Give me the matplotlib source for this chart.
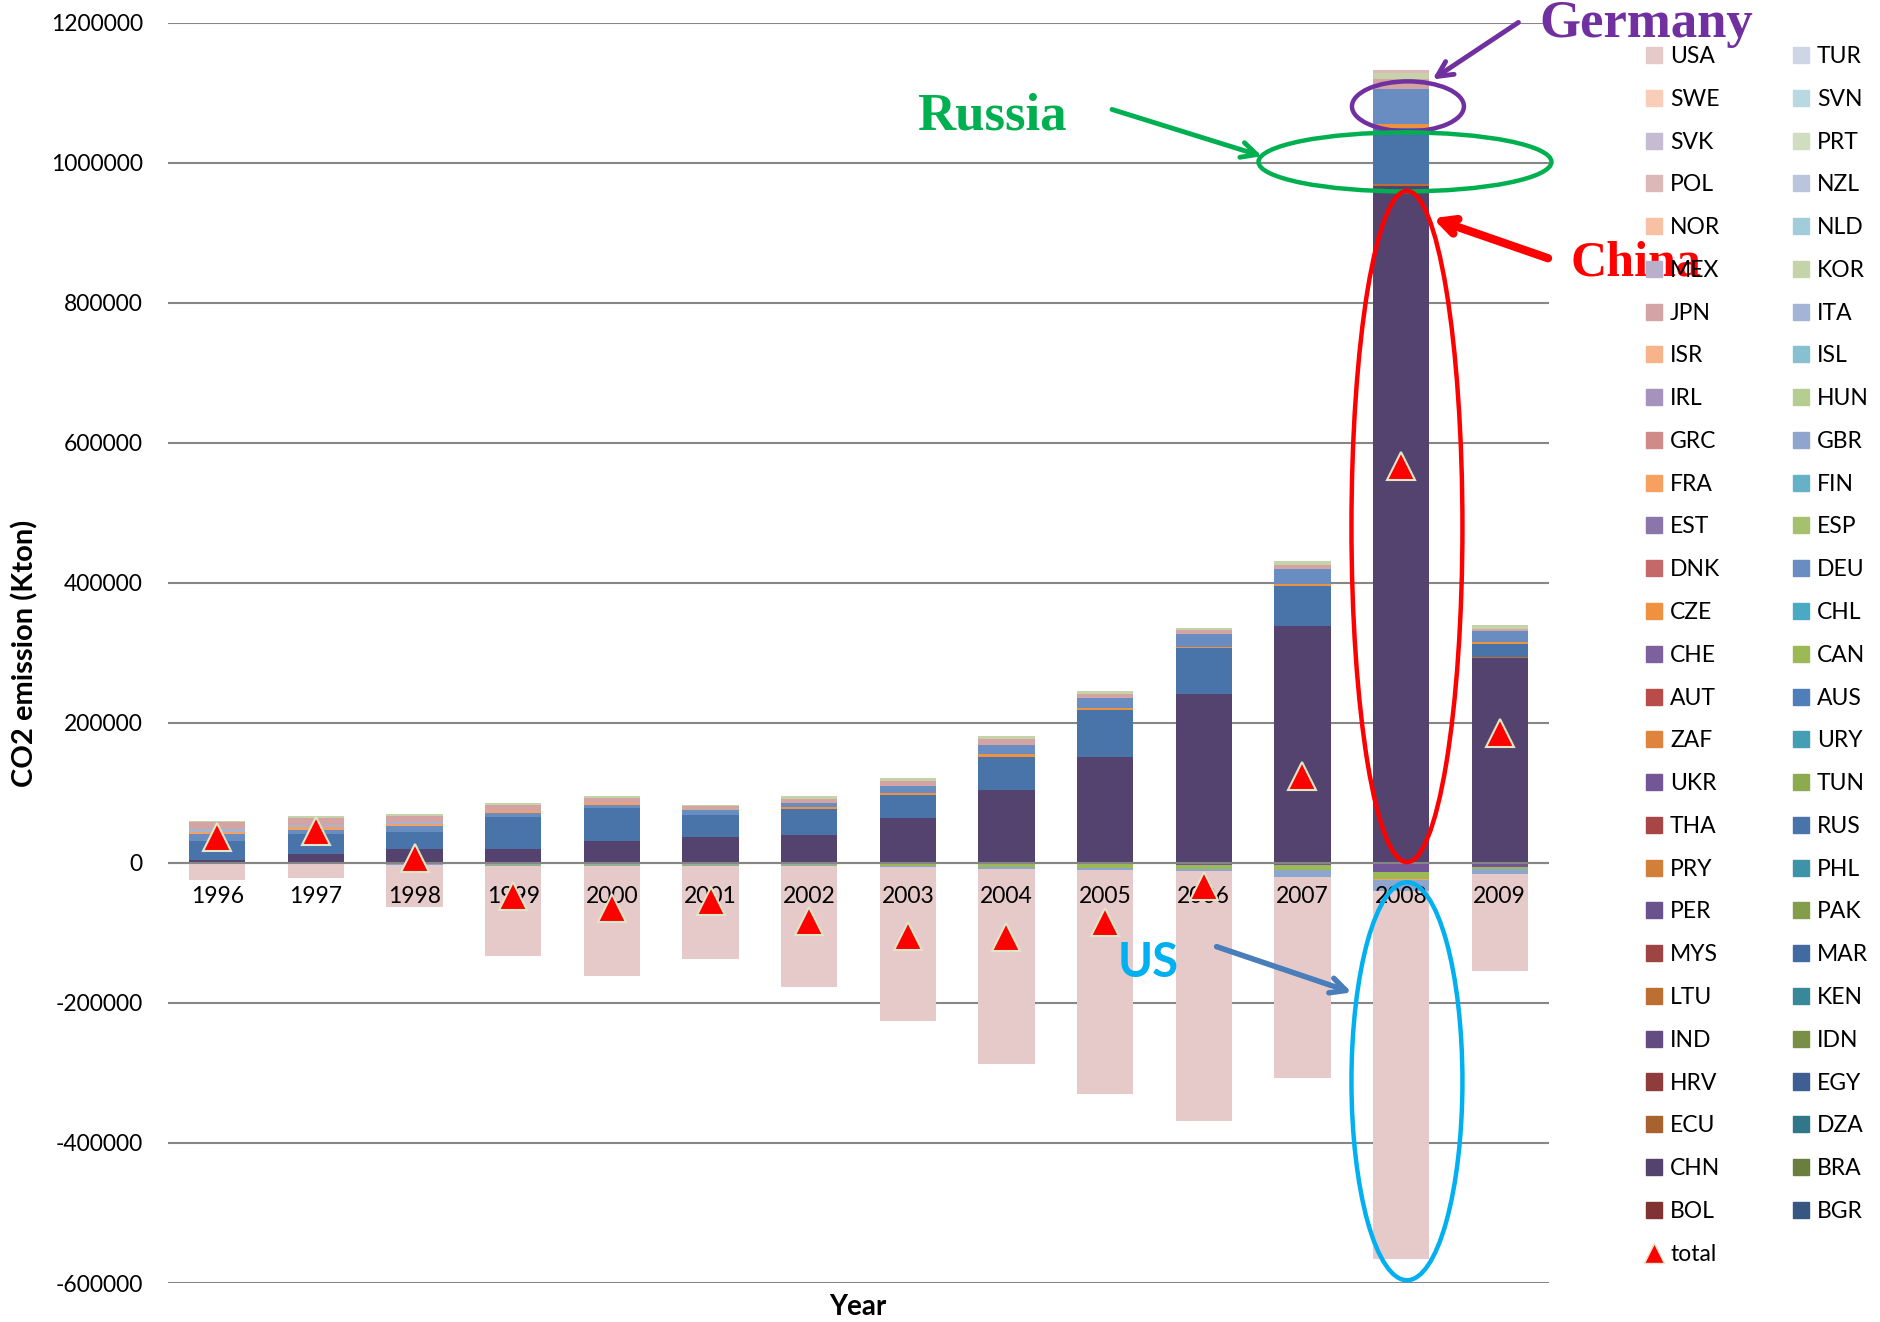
import numpy as np
import matplotlib
matplotlib.use("Agg")
import matplotlib.pyplot as plt
import matplotlib.patches as mpatches
from matplotlib.lines import Line2D
from matplotlib.ticker import StrMethodFormatter

plt.rcParams["font.family"] = ["Lato", "DejaVu Sans"]
plt.rcParams["axes.unicode_minus"] = False

# %% data (kton CO2)
years = list(range(1996, 2010))

# stacking order, bottom first (non-OECD, then OECD)
countries = ["BGR", "BOL", "BRA", "CHN", "DZA", "ECU", "EGY", "HRV", "IDN", "IND",
             "KEN", "LTU", "MAR", "MYS", "PAK", "PER", "PHL", "PRY", "RUS", "THA",
             "TUN", "UKR", "URY", "ZAF", "AUS", "AUT", "CAN", "CHE", "CHL", "CZE",
             "DEU", "DNK", "ESP", "EST", "FIN", "FRA", "GBR", "GRC", "HUN", "IRL",
             "ISL", "ISR", "ITA", "JPN", "KOR", "MEX", "NLD", "NOR", "NZL", "POL",
             "PRT", "SVK", "SVN", "SWE", "TUR", "USA"]

CHN = [4800, 12900, 20000, 20500, 31400, 36700, 39600, 64400, 104000, 151200, 241600, 337900, 967000, 293000]
LTU = [0, 0, 0, 0, 0, 0, 0, 0, 0, 0, 0, 0, 2500, 1700]
RUS = [26000, 28600, 24300, 44800, 46700, 31400, 37800, 32500, 47900, 67400, 65600, 57900, 80500, 18100]
UKR = [0, 0, -1500, -1500, -2000, -1500, -1500, -1500, -1500, -2000, -2500, -3500, -12900, -5700]
CAN = [0, 0, 0, -1000, -1500, -1000, -1700, -3000, -4000, -5600, -6300, -6000, -9500, -3300]
CZE = [0, 0, 0, 0, 0, 0, 2400, 2400, 3000, 3000, 1800, 2400, 5700, 2900]
DEU = [10500, 6200, 8100, 6200, 5200, 7100, 5900, 11200, 13600, 14200, 18300, 21300, 50300, 14800]
FRA = [2800, 3300, 2900, 2400, 1900, 2400, 0, 0, 0, 0, 0, 0, -2000, 0]
GBR = [0, 0, -1500, -1300, -1300, -1300, -1500, -2000, -3400, -3000, -3000, -10000, -15200, -6200]
ITA = [4300, 3800, 3300, 0, 0, 1500, 0, 0, 0, 0, 0, 0, 0, 0]
JPN = [9500, 9500, 8100, 8600, 7100, 1800, 5900, 5900, 8300, 5900, 4700, 6500, 14000, 3300]
KOR = [2400, 3300, 3300, 3300, 3800, 2400, 3500, 4700, 4700, 4100, 4100, 5300, 8000, 6200]
POL = [0, 0, 0, 0, 0, 0, 0, 0, 0, 0, 0, 0, 5000, 0]
USA = [-23800, -21900, -60300, -129500, -156200, -133300, -173100, -218600, -278300,
       -319600, -356800, -287700, -526100, -138700]

colors = ["#355781", "#813333", "#6A7F3D", "#55436F", "#31778A", "#A8622F", "#3D5F93",
          "#8F3C3C", "#788F45", "#624C82", "#378898", "#BD6F33", "#416BA0", "#9E4443",
          "#829E4A", "#6A528D", "#3D93A8", "#D27F3A", "#4874AA", "#A84545", "#8CAA4E",
          "#735696", "#449EB4", "#DE843D", "#4F7EBA", "#BA4B4B", "#9BBA55", "#7D619F",
          "#4AA9C3", "#F0913F", "#6A8DC1", "#C4686A", "#A5C170", "#8B76AC", "#65B2C8",
          "#F8A05F", "#8EA5CD", "#D18A8A", "#B6CD92", "#A693BD", "#87C1D1", "#F7B48B",
          "#A3B4D4", "#D4A3A3", "#C4D4A8", "#B7AFCC", "#A1CCDA", "#F8C1A3", "#B9C4DD",
          "#DDB8B8", "#D1DDBF", "#C5BCD4", "#B8D8E2", "#F9CDB8", "#CDD5E6", "#E6CACA"]

series = {"CHN": CHN, "LTU": LTU, "RUS": RUS, "UKR": UKR, "CAN": CAN, "CZE": CZE,
          "DEU": DEU, "FRA": FRA, "GBR": GBR, "ITA": ITA, "JPN": JPN, "KOR": KOR,
          "POL": POL, "USA": USA}
vals = np.array([series.get(c, [0] * len(years)) for c in countries], dtype=float)
total = vals.sum(axis=0)

# %% figure
fig = plt.figure(figsize=(18.8, 13.22), dpi=100)
ax = fig.add_axes([168 / 1880, 1 - 1283 / 1322, 1381 / 1880, 1260.3 / 1322])

x = np.arange(len(years))
pos = np.clip(vals, 0, None)
neg = np.clip(vals, None, 0)
pos_bot = np.vstack([np.zeros(len(years)), np.cumsum(pos, axis=0)[:-1]])
neg_bot = np.vstack([np.zeros(len(years)), np.cumsum(neg, axis=0)[:-1]])

w = 0.57
for i, c in enumerate(countries):
    if pos[i].any():
        ax.bar(x, pos[i], w, bottom=pos_bot[i], color=colors[i], lw=0, zorder=1)
    if neg[i].any():
        ax.bar(x, neg[i], w, bottom=neg_bot[i], color=colors[i], lw=0, zorder=1)

ax.axhline(0, color="#868686", lw=1.5, zorder=1.6)
ax.plot(x, total, "^", color="red", ms=20, mec="#E0E6C8", mew=1.5, zorder=4, ls="none")

for xi, yr in zip(x, years):
    ax.annotate(str(yr), (xi, 0), xytext=(0, -24.5), textcoords="offset points",
                ha="center", va="center", fontsize=16.5, zorder=3)

ax.set_xlim(-0.5, len(years) - 0.5)
ax.set_ylim(-600000, 1200000)
ax.set_yticks(np.arange(-600000, 1200001, 200000))
ax.yaxis.set_major_formatter(StrMethodFormatter("{x:.0f}"))
ax.tick_params(axis="y", length=0, pad=18, labelsize=16.5)
ax.set_xticks([])
ax.yaxis.grid(True, color="#868686", lw=1.5)
ax.set_axisbelow(True)
for s in ax.spines.values():
    s.set_visible(False)

fig.text(25 / 1880, 1 - 653 / 1322, "CO2 emission (Kton)", rotation=90,
         ha="center", va="center", fontsize=21, fontweight="bold")
fig.text(858 / 1880, 1 - 1307 / 1322, "Year", ha="center", va="center",
         fontsize=20, fontweight="bold")

# %% callouts
serif = ["Liberation Serif", "DejaVu Serif"]
rings = [((12.07, 1080500), 1.135, 71400, "#7030A0"),
         ((12.04, 1001200), 2.97, 84300, "#00B050"),
         ((12.06, 480400), 1.125, 958600, "#FF0000"),
         ((12.06, -311900), 1.125, 568300, "#00B0F0")]
for xy, ew, eh, col in rings:
    ax.add_patch(mpatches.Ellipse(xy, ew, eh, fill=False, ec=col, lw=3.2,
                                  zorder=5, clip_on=False))

arrows = [((13.19, 1200400), (12.32, 1119000), "#7030A0", 3.5),
          ((9.07, 1076100), (10.59, 1009400), "#00B050", 3.5),
          ((13.49, 863600), (12.32, 920700), "#FF0000", 6),
          ((10.13, -119600), (11.50, -185000), "#4A7EBB", 4)]
for tail, head, col, lw in arrows:
    ax.annotate("", xy=head, xytext=tail, annotation_clip=False, zorder=5,
                arrowprops=dict(arrowstyle="->,head_length=1.1,head_width=0.55",
                                color=col, lw=lw, shrinkA=0, shrinkB=0))

ax.text(13.40, 1179000, "Germany", color="#7030A0", fontsize=38, fontweight="bold",
        family=serif, ha="left", va="baseline", clip_on=False, zorder=6)
ax.text(7.09, 1047600, "Russia", color="#00B050", fontsize=38, fontweight="bold",
        family=serif, ha="left", va="baseline", zorder=6)
ax.text(13.72, 838900, "China", color="#FF0000", fontsize=36, fontweight="bold",
        family=serif, ha="left", va="baseline", clip_on=False, zorder=6)
ax.text(9.13, -162400, "US", color="#00B0F0", fontsize=34, fontweight="bold",
        ha="left", va="baseline", zorder=6)

# %% legend, two columns read across rows (top of stack first)
order = list(range(len(countries)))[::-1]
col1 = order[0::2]
col2 = order[1::2]
h1 = [mpatches.Patch(color=colors[i], label=countries[i]) for i in col1]
h1.append(Line2D([], [], marker="^", ls="none", color="red", mec="#E0E6C8",
                 mew=1, ms=14, label="total"))
h2 = [mpatches.Patch(color=colors[i], label=countries[i]) for i in col2]
leg_kw = dict(loc="upper left", frameon=False, fontsize=16.5, borderpad=0,
              borderaxespad=0, handlelength=0.7, handleheight=0.7,
              handletextpad=0.35, labelspacing=0.95)
fig.legend(handles=h1, bbox_to_anchor=(1646 / 1880, 1 - 46 / 1322), **leg_kw)
fig.legend(handles=h2, bbox_to_anchor=(1793 / 1880, 1 - 46 / 1322), **leg_kw)

fig.savefig("out.png", dpi=100)
